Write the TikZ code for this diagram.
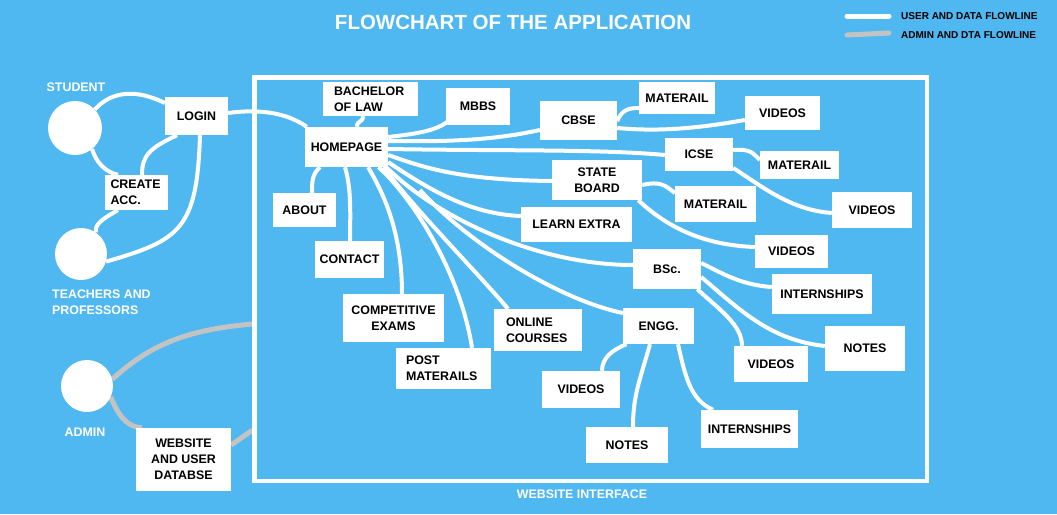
\documentclass[tikz,border=0pt]{standalone}
\usepackage{fontspec}
\setmainfont{Liberation Sans}
\pgfdeclarelayer{bg}
\pgfdeclarelayer{lines}
\pgfsetlayers{bg,lines,main}
\definecolor{sky}{RGB}{80,184,240}
\definecolor{flowgrey}{RGB}{195,195,195}
\newcommand\boxfont{\fontsize{12.4}{16}\selectfont\bfseries}
\newcommand\capfont{\fontsize{12.4}{16}\selectfont\bfseries}
\newcommand\legfont{\fontsize{10}{12}\selectfont\bfseries}
\newcommand\headfont{\fontsize{20.5}{24}\selectfont\bfseries}
\begin{document}
\begin{tikzpicture}[x=1pt,y=-1pt,
  box/.style={fill=white, inner sep=0pt, font=\boxfont, text=black, align=center},
  actor/.style={circle, fill=white, inner sep=0pt},
  caption/.style={font=\capfont, text=white, inner sep=0pt, align=left},
  legtext/.style={font=\legfont, text=black, inner sep=0pt, anchor=west},
  flow/.style={draw=white, line width=4pt},
  adminflow/.style={draw=flowgrey, line width=5pt},
]
\useasboundingbox (0,0) rectangle (1057,514);
\begin{pgfonlayer}{bg}
  \fill[sky] (0,0) rectangle (1057,514);
\end{pgfonlayer}

% heading and legend
\node[font=\headfont, text=white, inner sep=0pt] (title) at (513,22) {FLOWCHART OF THE APPLICATION};
\coordinate (legA1) at (847,16);
\coordinate (legA2) at (889,16);
\coordinate (legB1) at (847,35);
\coordinate (legB2) at (889,33);
\draw[flow, line width=5pt, line cap=round] (legA1) -- (legA2);
\draw[adminflow, line cap=round] (legB1) -- (legB2);
\node[legtext] (legUser) at (901,16) {USER AND DATA FLOWLINE};
\node[legtext] (legAdmin) at (901,35) {ADMIN AND DTA FLOWLINE};

% website frame
\node[draw=white, line width=4.5pt, minimum width=672.5pt, minimum height=403.5pt, inner sep=0pt] (site) at (590.75,279.25) {};
\node[caption] (siteLbl) at (582,494) {WEBSITE INTERFACE};

% users
\node[actor, minimum size=54pt] (stu) at (75,128) {};
\node[actor, minimum size=52pt] (teach) at (81,254) {};
\node[actor, minimum size=52pt] (admin) at (87,386) {};
\node[caption] (stuLbl) at (76,87) {STUDENT};
\node[caption, anchor=north west] (teachLbl) at (52,290) {TEACHERS AND\\PROFESSORS};
\node[caption] (adminLbl) at (85,432) {ADMIN};

\node[box, minimum width=63pt, minimum height=38pt] (login) at (196.5,116) {LOGIN};
\node[box, minimum width=63pt, minimum height=35pt, text width=52pt, align=left] (create) at (136.5,192.5) {CREATE\\ACC.};
\node[box, minimum width=95pt, minimum height=63pt] (db) at (183.5,459.5) {WEBSITE\\AND USER\\DATABSE};

% pages of the site
\node[box, minimum width=83pt, minimum height=40pt] (home) at (346.5,147) {HOMEPAGE};
\node[box, minimum width=95pt, minimum height=34pt, text width=73pt, align=left] (bach) at (370.5,99) {BACHELOR\\OF LAW};
\node[box, minimum width=64pt, minimum height=37pt] (mbbs) at (478,106.5) {MBBS};
\node[box, minimum width=77pt, minimum height=39pt] (cbse) at (578.5,120.5) {CBSE};
\node[box, minimum width=76pt, minimum height=32pt] (matA) at (677,98) {MATERAIL};
\node[box, minimum width=75pt, minimum height=34pt] (vidA) at (782.5,113) {VIDEOS};
\node[box, minimum width=68pt, minimum height=33pt] (icse) at (699,154.5) {ICSE};
\node[box, minimum width=79pt, minimum height=28pt] (matB) at (799.5,165) {MATERAIL};
\node[box, minimum width=80pt, minimum height=36pt] (vidB) at (872,210) {VIDEOS};
\node[box, minimum width=90pt, minimum height=40pt] (state) at (597,180) {STATE\\BOARD};
\node[box, minimum width=81pt, minimum height=36pt] (matC) at (715.5,204) {MATERAIL};
\node[box, minimum width=73pt, minimum height=33pt] (vidC) at (791.5,251.5) {VIDEOS};
\node[box, minimum width=111pt, minimum height=35pt] (learn) at (576.5,224.5) {LEARN EXTRA};
\node[box, minimum width=68pt, minimum height=40pt] (bsc) at (667,269) {BSc.};
\node[box, minimum width=100pt, minimum height=40pt] (intA) at (822,294) {INTERNSHIPS};
\node[box, minimum width=80pt, minimum height=45pt] (notesA) at (865,348.5) {NOTES};
\node[box, minimum width=74pt, minimum height=36pt] (vidD) at (771,364) {VIDEOS};
\node[box, minimum width=71pt, minimum height=36pt] (engg) at (658.5,326) {ENGG.};
\node[box, minimum width=78pt, minimum height=37pt] (vidE) at (581,389.5) {VIDEOS};
\node[box, minimum width=82pt, minimum height=36pt] (notesB) at (627,445) {NOTES};
\node[box, minimum width=97pt, minimum height=38pt] (intB) at (749.5,429) {INTERNSHIPS};
\node[box, minimum width=63pt, minimum height=34pt] (about) at (304.5,210) {ABOUT};
\node[box, minimum width=69pt, minimum height=37pt] (contact) at (349.5,259.5) {CONTACT};
\node[box, minimum width=101pt, minimum height=48pt] (comp) at (393.5,318) {COMPETITIVE\\EXAMS};
\node[box, minimum width=95pt, minimum height=41pt, text width=75pt, align=left] (post) at (443.5,368.5) {POST\\MATERAILS};
\node[box, minimum width=88pt, minimum height=42pt, text width=64pt, align=left] (online) at (538,330) {ONLINE\\COURSES};
\coordinate (stray) at (420,190);

\begin{pgfonlayer}{lines}
  % user and data flow
  \draw[flow] (stu.43) .. controls (108,95) and (130,86) .. ([yshift=13pt]login.west);
  \draw[flow] (stu.-51) .. controls (96,162) and (105,172) .. ([xshift=-18.5pt]create.north);
  \draw[flow] ([xshift=-19.5pt]login.south) .. controls (150,148) and (142,155) .. ([xshift=5.5pt]create.north);
  \draw[flow] ([xshift=-18.5pt]create.south) .. controls (100,220) and (95,225) .. (teach.56);
  \draw[flow] ([xshift=3.5pt]login.south) .. controls (197,230) and (180,240) .. (teach.-17);
  \draw[flow] ([yshift=3pt]login.east) .. controls (265,108) and (290,115) .. ([xshift=2pt]home.north west);

  \draw[flow] ([xshift=10.5pt]home.north) .. controls (357,120) and (363,123) .. ([xshift=-7.5pt]bach.south);
  \draw[flow] ([yshift=10pt]home.east) .. controls (415,134) and (435,131) .. ([xshift=1pt,yshift=3pt]mbbs.south west);
  \draw[flow] ([yshift=6pt]home.east) .. controls (450,142) and (495,140) .. ([yshift=-9.5pt]cbse.west);
  \draw[flow] ([yshift=-2pt]home.east) .. controls (500,151) and (600,149) .. ([yshift=-0.5pt]icse.west);
  \draw[flow] ([yshift=-8pt]home.east) .. controls (425,168) and (460,180) .. ([yshift=-1pt]state.west);
  \draw[flow] ([yshift=5pt]home.south east) .. controls (430,190) and (470,214) .. ([yshift=8.5pt]learn.west);
  \draw[flow] ([xshift=-2pt]home.south east) .. controls (440,220) and (540,265) .. ([yshift=4pt]bsc.west);
  \draw[flow] (stray) .. controls (470,245) and (560,300) .. ([yshift=13pt]engg.west);
  \draw[flow] ([xshift=-5pt]home.south east) .. controls (420,215) and (475,270) .. ([xshift=-30pt]online.north);
  \draw[flow] ([xshift=32pt]home.south) .. controls (410,195) and (460,270) .. ([xshift=28.5pt]post.north);
  \draw[flow] ([xshift=21.5pt]home.south) .. controls (388,200) and (402,240) .. ([xshift=8.5pt]comp.north);
  \draw[flow] ([xshift=-1.5pt]home.south) .. controls (352,190) and (350,220) .. ([xshift=0.5pt]contact.north);
  \draw[flow] ([xshift=-26.5pt]home.south) .. controls (312,174) and (312,182) .. ([xshift=7.5pt]about.north);

  \draw[flow] ([yshift=-0.5pt]cbse.east) .. controls (622,110) and (628,108) .. ([yshift=-10pt]matA.west);
  \draw[flow] ([yshift=-7.5pt]cbse.east) .. controls (660,132) and (700,128) .. ([yshift=-7pt]vidA.west);
  \draw[flow] ([yshift=4.5pt]icse.east) .. controls (750,149) and (752,152) .. ([yshift=5pt]matB.west);
  \draw[flow] ([yshift=-13.5pt]icse.east) .. controls (760,185) and (790,210) .. ([yshift=-3pt]vidB.west);
  \draw[flow] ([yshift=-5pt]state.east) .. controls (660,181) and (665,185) .. ([yshift=11pt]matC.west);
  \draw[flow] ([xshift=-4pt]state.south east) .. controls (665,225) and (700,245) .. ([yshift=4.5pt]vidC.west);
  \draw[flow] ([yshift=6pt]bsc.east) .. controls (720,272) and (740,285) .. ([yshift=7pt]intA.west);
  \draw[flow] ([yshift=-8pt]bsc.east) .. controls (740,310) and (770,340) .. ([yshift=2.5pt]notesA.west);
  \draw[flow] ([xshift=-4pt]bsc.south east) .. controls (720,310) and (742,325) .. ([xshift=-29pt]vidD.north);
  \draw[flow] ([xshift=-32pt]engg.south) .. controls (612,350) and (602,358) .. ([xshift=21pt]vidE.north);
  \draw[flow] ([xshift=-8.5pt]engg.south) .. controls (640,380) and (633,395) .. ([xshift=6pt]notesB.north);
  \draw[flow] ([xshift=19.5pt]engg.south) .. controls (685,375) and (690,400) .. ([xshift=-36.5pt]intB.north);

  % admin and data flow
  \draw[adminflow] (admin.15) .. controls (150,345) and (185,330) .. ([yshift=-44.75pt]site.west);
  \draw[adminflow] (admin.-25) .. controls (117,412) and (125,427) .. ([xshift=-41.5pt]db.north);
  \draw[adminflow] ([yshift=14.5pt]db.east) -- ([yshift=-151pt]site.west);
\end{pgfonlayer}
\end{tikzpicture}
\end{document}
